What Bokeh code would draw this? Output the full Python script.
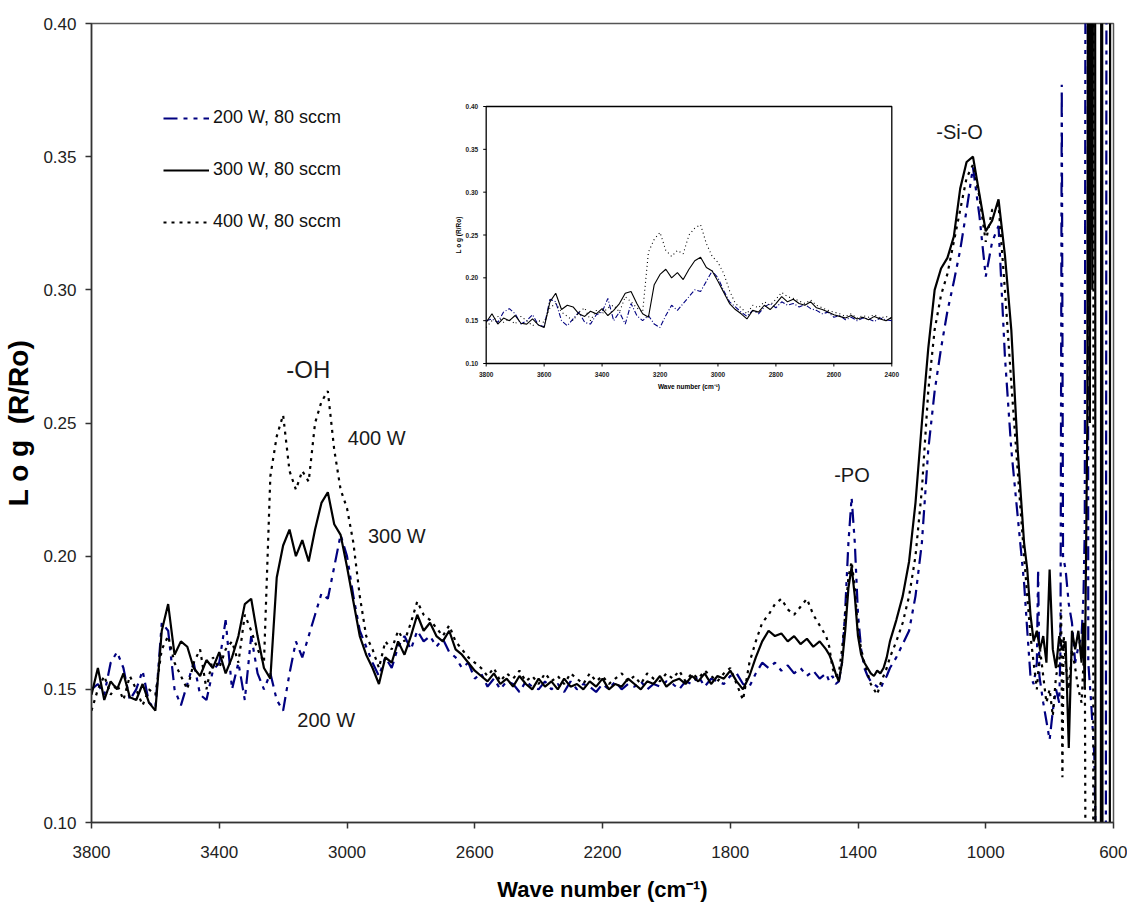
import math
from bokeh.plotting import figure
from bokeh.models import Range1d, FixedTicker, PrintfTickFormatter, Legend, LegendItem
from bokeh.core.properties import value
from bokeh.embed import file_html
from bokeh.resources import INLINE

# ---------------- data ----------------
wn_a = list(range(3800, 1500, -20))   # 3800 .. 1520
wn_b = list(range(1500, 1290, -10))   # 1500 .. 1300
wn_c = list(range(1280, 870, -20))    # 1280 .. 880

y300_a = [
    0.148, 0.158, 0.146, 0.153, 0.150, 0.156, 0.147, 0.146, 0.152, 0.145,
    0.142, 0.172, 0.182, 0.163, 0.168, 0.166, 0.158, 0.155, 0.161, 0.158,
    0.164, 0.156, 0.162, 0.170, 0.182, 0.184, 0.170, 0.158, 0.154, 0.192,
    0.204, 0.210, 0.200, 0.206, 0.198, 0.210, 0.220, 0.224, 0.212, 0.208,
    0.196, 0.183, 0.170, 0.163, 0.158, 0.152, 0.162, 0.160, 0.168, 0.163,
    0.170, 0.178, 0.172, 0.175, 0.170, 0.168, 0.172, 0.165, 0.163, 0.160,
    0.157, 0.155, 0.153, 0.156, 0.152, 0.154, 0.151, 0.155, 0.152, 0.150,
    0.154, 0.151, 0.153, 0.150, 0.154, 0.151, 0.152, 0.150, 0.153, 0.151,
    0.154, 0.150, 0.152, 0.151, 0.154, 0.152, 0.150, 0.153, 0.152, 0.155,
    0.151, 0.153, 0.154, 0.152, 0.155, 0.153, 0.156, 0.152, 0.155, 0.154,
    0.157, 0.153, 0.150, 0.155, 0.162, 0.168, 0.172, 0.170, 0.171, 0.168,
    0.170, 0.167, 0.169, 0.166, 0.168,
]
y300_b = [0.165, 0.163, 0.160, 0.156, 0.153, 0.160, 0.172, 0.188, 0.196, 0.185, 0.170,
          0.163, 0.160, 0.158, 0.156, 0.155, 0.157, 0.156, 0.158, 0.162, 0.168]
y300_c = [0.176, 0.185, 0.198, 0.220, 0.250, 0.278, 0.300, 0.308, 0.312, 0.320, 0.338,
          0.348, 0.350, 0.336, 0.322, 0.326, 0.334, 0.313, 0.285, 0.240, 0.205]
wn_tail_300 = [870, 860, 850, 840, 830, 820, 810, 800, 790, 780, 770, 760, 750, 740, 730, 720,
               710, 700, 695, 690, 686, 682, 678, 674, 670, 666, 662, 658, 656, 640, 638, 636,
               634, 612, 610, 600]
y_tail_300 = [0.195, 0.178, 0.168, 0.172, 0.165, 0.170, 0.160, 0.195, 0.165, 0.158, 0.170, 0.165,
              0.168, 0.128, 0.172, 0.165, 0.172, 0.160, 0.175, 0.150, 0.200, 0.250, 0.600, 0.250,
              0.600, 0.300, 0.600, 0.600, -0.100, -0.100, 0.600, 0.600, -0.100, -0.100, 0.600, 0.600]

y200_a = [
    0.150, 0.152, 0.148, 0.160, 0.164, 0.158, 0.146, 0.150, 0.157, 0.145,
    0.143, 0.175, 0.172, 0.150, 0.144, 0.152, 0.160, 0.148, 0.146, 0.157,
    0.160, 0.176, 0.150, 0.160, 0.146, 0.170, 0.156, 0.150, 0.156, 0.146,
    0.142, 0.156, 0.168, 0.162, 0.170, 0.178, 0.186, 0.184, 0.196, 0.208,
    0.200, 0.185, 0.172, 0.166, 0.160, 0.155, 0.162, 0.158, 0.166, 0.170,
    0.165, 0.172, 0.168, 0.170, 0.166, 0.169, 0.164, 0.162, 0.158, 0.160,
    0.154, 0.156, 0.151, 0.154, 0.150, 0.153, 0.152, 0.149, 0.153, 0.151,
    0.150, 0.153, 0.150, 0.152, 0.149, 0.153, 0.150, 0.152, 0.151, 0.149,
    0.152, 0.150, 0.153, 0.150, 0.152, 0.151, 0.153, 0.150, 0.152, 0.151,
    0.153, 0.152, 0.150, 0.153, 0.152, 0.155, 0.151, 0.154, 0.153, 0.152,
    0.155, 0.156, 0.152, 0.151, 0.156, 0.160, 0.158, 0.160, 0.157, 0.159,
    0.156, 0.158, 0.155, 0.157, 0.154,
]
y200_b = [0.156, 0.153, 0.155, 0.152, 0.153, 0.160, 0.180, 0.205, 0.222, 0.205, 0.178,
          0.165, 0.158, 0.155, 0.153, 0.152, 0.151, 0.150, 0.153, 0.155, 0.158]
y200_c = [0.162, 0.167, 0.172, 0.185, 0.205, 0.240, 0.262, 0.278, 0.292, 0.303, 0.315,
          0.330, 0.346, 0.328, 0.305, 0.318, 0.324, 0.275, 0.240, 0.215, 0.190]
wn_tail_200 = [870, 860, 850, 840, 836, 832, 820, 810, 800, 790, 780, 770, 766, 762, 758, 750,
               740, 730, 720, 710, 700, 694, 690, 686, 681, 679, 670, 660, 650, 625, 621, 600]
y_tail_200 = [0.172, 0.155, 0.152, 0.160, 0.195, 0.155, 0.145, 0.138, 0.131, 0.142, 0.150, 0.145,
              0.165, 0.377, 0.200, 0.195, 0.182, 0.175, 0.160, 0.166, 0.170, 0.185, 0.210, 0.600,
              0.600, 0.160, 0.145, 0.125, 0.050, -0.100, 0.600, 0.600]

y400_a = [
    0.142, 0.150, 0.155, 0.148, 0.152, 0.146, 0.155, 0.150, 0.144, 0.150,
    0.148, 0.165, 0.170, 0.160, 0.155, 0.150, 0.160, 0.165, 0.150, 0.162,
    0.158, 0.165, 0.168, 0.160, 0.178, 0.172, 0.165, 0.160, 0.230, 0.245,
    0.253, 0.232, 0.225, 0.232, 0.228, 0.250, 0.258, 0.262, 0.240, 0.225,
    0.218, 0.205, 0.185, 0.170, 0.165, 0.158, 0.168, 0.165, 0.172, 0.168,
    0.175, 0.183, 0.178, 0.176, 0.173, 0.170, 0.174, 0.168, 0.165, 0.162,
    0.160, 0.158, 0.155, 0.158, 0.153, 0.156, 0.154, 0.157, 0.153, 0.155,
    0.152, 0.156, 0.153, 0.155, 0.152, 0.156, 0.154, 0.152, 0.156, 0.153,
    0.155, 0.152, 0.154, 0.156, 0.153, 0.155, 0.152, 0.156, 0.154, 0.153,
    0.156, 0.154, 0.157, 0.153, 0.156, 0.154, 0.157, 0.155, 0.153, 0.156,
    0.158, 0.152, 0.146, 0.160, 0.168, 0.175, 0.178, 0.182, 0.184, 0.180,
    0.178, 0.181, 0.184, 0.178, 0.174,
]
y400_b = [0.170, 0.166, 0.158, 0.155, 0.156, 0.165, 0.178, 0.192, 0.198, 0.188, 0.172,
          0.165, 0.160, 0.156, 0.152, 0.150, 0.148, 0.152, 0.155, 0.158, 0.162]
y400_c = [0.168, 0.175, 0.185, 0.200, 0.225, 0.262, 0.285, 0.298, 0.306, 0.318, 0.330,
          0.342, 0.347, 0.335, 0.318, 0.330, 0.332, 0.300, 0.265, 0.232, 0.200]
wn_tail_400 = [870, 860, 850, 840, 830, 820, 810, 800, 790, 780, 770, 764, 760, 756, 750, 740,
               730, 720, 710, 700, 690, 686, 676, 664, 662, 600]
y_tail_400 = [0.185, 0.170, 0.160, 0.150, 0.165, 0.155, 0.145, 0.150, 0.140, 0.155, 0.160, 0.180,
              0.117, 0.170, 0.160, 0.150, 0.165, 0.158, 0.150, 0.145, 0.170, 0.020, -0.100, -0.100,
              0.600, 0.600]

series_labels = ["200 W, 80 sccm", "300 W, 80 sccm", "400 W, 80 sccm"]

x_ticks = [3800, 3400, 3000, 2600, 2200, 1800, 1400, 1000, 600]
y_ticks = [0.10, 0.15, 0.20, 0.25, 0.30, 0.35, 0.40]
inset_x_ticks = [3800, 3600, 3400, 3200, 3000, 2800, 2600, 2400]
inset_y_ticks = [0.10, 0.15, 0.20, 0.25, 0.30, 0.35, 0.40]

ann_text = ["-OH", "400 W", "300 W", "200 W", "-PO", "-Si-O"]
ann_x = [3121, 2907, 2844, 3065, 1419, 1082]
ann_y = [0.270, 0.2445, 0.2074, 0.1383, 0.2303, 0.3594]
ann_size = ["24px", "20px", "20px", "20px", "20px", "20px"]

# ---------------- assemble ----------------
x200 = wn_a + wn_b + wn_c + wn_tail_200
y200 = y200_a + y200_b + y200_c + y_tail_200
x300 = wn_a + wn_b + wn_c + wn_tail_300
y300 = y300_a + y300_b + y300_c + y_tail_300
x400 = wn_a + wn_b + wn_c + wn_tail_400
y400 = y400_a + y400_b + y400_c + y_tail_400
assert len(x200) == len(y200) and len(x300) == len(y300) and len(x400) == len(y400)

SANS = "Liberation Sans"
BLUE = "#000080"

W, H = 1127, 924
FL, FR, FT, FB = 85, 1113, 23, 822          # main frame (px)
IL, IR, IT, IB = 482, 890, 106, 363         # inset frame (px)

p = figure(width=W, height=H, output_backend="svg", toolbar_location=None,
           x_range=Range1d(3800, 600), y_range=Range1d(0.10, 0.40),
           min_border_left=FL, min_border_right=W - FR, min_border_top=FT,
           min_border_bottom=H - FB)
p.background_fill_color = "white"
p.border_fill_color = "white"
p.outline_line_color = "#555555"
p.outline_line_width = 1.5
p.xgrid.visible = False
p.ygrid.visible = False

for ax in (p.xaxis, p.yaxis):
    ax.axis_line_color = "#333333"
    ax.axis_line_width = 1.5
    ax.major_tick_line_color = "#333333"
    ax.major_tick_line_width = 1.5
    ax.major_tick_in = 0
    ax.major_tick_out = 6
    ax.minor_tick_line_color = None
    ax.major_label_text_font = SANS
    ax.major_label_text_font_size = "17px"
    ax.major_label_text_color = "#222222"
    ax.axis_label_text_font_style = "bold"
    ax.axis_label_text_color = "black"

p.xaxis.ticker = FixedTicker(ticks=x_ticks)
p.yaxis.ticker = FixedTicker(ticks=y_ticks)
p.yaxis.formatter = PrintfTickFormatter(format="%.2f")
p.xaxis.major_label_standoff = 17
p.yaxis.major_label_standoff = 9
p.xaxis.axis_label = "Wave number (cm\u207b\u00b9)"
p.xaxis.axis_label_text_font = SANS
p.xaxis.axis_label_text_font_size = "22px"
p.xaxis.axis_label_standoff = 16
p.yaxis.axis_label = "L o g\u00a0\u00a0(R/Ro)"
p.yaxis.axis_label_text_font = SANS
p.yaxis.axis_label_text_font_size = "28px"
p.yaxis.axis_label_standoff = 6

# main curves
r200 = p.line(x200, y200, line_color=BLUE, line_width=2.2, line_dash="14 6 4 6 4 6")
r400 = p.line(x400, y400, line_color="black", line_width=2.2, line_dash="3 5")
r300 = p.line(x300, y300, line_color="black", line_width=2.2)

# annotations
p.text(x=ann_x, y=ann_y, text=ann_text, text_align="center", text_baseline="middle",
       text_font=value(SANS), text_font_size=ann_size, text_color="#1a1a1a")

# legend
legend = Legend(items=[LegendItem(label=value(series_labels[0]), renderers=[r200]),
                       LegendItem(label=value(series_labels[1]), renderers=[r300]),
                       LegendItem(label=value(series_labels[2]), renderers=[r400])],
                location=(157 - FL, FB - 232), orientation="vertical",
                glyph_width=46, glyph_height=20, label_height=20, spacing=31,
                padding=0, margin=0, label_standoff=4,
                border_line_alpha=0, background_fill_alpha=0,
                label_text_font=SANS, label_text_font_size="18px",
                label_text_color="#111111")
p.add_layout(legend)

# ---------------- inset (through its own ranges) ----------------
def inset_range(v0, v1, p0, p1, f0, flen):
    a = (p0 - f0) / flen
    b = (p1 - f0) / flen
    span = (v1 - v0) / (b - a)
    s = v0 - a * span
    return Range1d(start=s, end=s + span)

ix0, ix1 = inset_x_ticks[0], inset_x_ticks[-1]
iy0, iy1 = inset_y_ticks[0], inset_y_ticks[-1]
rx = inset_range(ix0, ix1, IL, IR, FL, FR - FL)
ry = inset_range(iy0, iy1, FB - IB, FB - IT, 0, FB - FT)
p.extra_x_ranges = {"ix": rx}
p.extra_y_ranges = {"iy": ry}
kw = dict(x_range_name="ix", y_range_name="iy")

p.quad(left=[ix0], right=[ix1], bottom=[iy0], top=[iy1], fill_color="white",
       line_color="black", line_width=1.3, **kw)

def clip(xs, ys):
    xx = [x for x in xs if x >= ix1]
    return xx, ys[:len(xx)]

xi, yi = clip(x200, y200)
p.line(xi, yi, line_color=BLUE, line_width=1.1, line_dash="5 2 1 2", **kw)
xi, yi = clip(x400, y400)
p.line(xi, yi, line_color="black", line_width=1.1, line_dash="1 3", **kw)
xi, yi = clip(x300, y300)
p.line(xi, yi, line_color="black", line_width=1.1, **kw)

# inset ticks
px_per_x = (IR - IL) / abs(ix1 - ix0)
px_per_y = (IB - IT) / (iy1 - iy0)
tx = 3 / px_per_x
ty = 3 / px_per_y
p.segment(x0=inset_x_ticks, y0=[iy0] * len(inset_x_ticks), x1=inset_x_ticks,
          y1=[iy0 - ty] * len(inset_x_ticks), line_color="black", line_width=1, **kw)
p.segment(x0=[ix0] * len(inset_y_ticks), y0=inset_y_ticks, x1=[ix0 + tx] * len(inset_y_ticks),
          y1=inset_y_ticks, line_color="black", line_width=1, **kw)
p.text(x=inset_x_ticks, y=[iy0] * len(inset_x_ticks), text=[str(v) for v in inset_x_ticks],
       text_align="center", text_baseline="top", y_offset=8, text_font=value(SANS),
       text_font_size="6.5px", text_font_style="bold", text_color="#222222", **kw)
p.text(x=[ix0] * len(inset_y_ticks), y=inset_y_ticks, text=["%.2f" % v for v in inset_y_ticks],
       text_align="right", text_baseline="middle", x_offset=-8, text_font=value(SANS),
       text_font_size="6.5px", text_font_style="bold", text_color="#222222", **kw)
p.text(x=[(ix0 + ix1) / 2], y=[iy0], text=["Wave number (cm\u207b\u00b9)"], text_align="center",
       text_baseline="top", y_offset=19, text_font=value(SANS), text_font_size="6.5px",
       text_font_style="bold", **kw)
p.text(x=[ix0], y=[(iy0 + iy1) / 2], text=["L o g (R/Ro)"], text_align="center",
       text_baseline="bottom", angle=math.pi / 2, x_offset=-24, text_font=value(SANS),
       text_font_size="6.5px", text_font_style="bold", **kw)

open("out.html", "w").write(file_html(p, INLINE))
